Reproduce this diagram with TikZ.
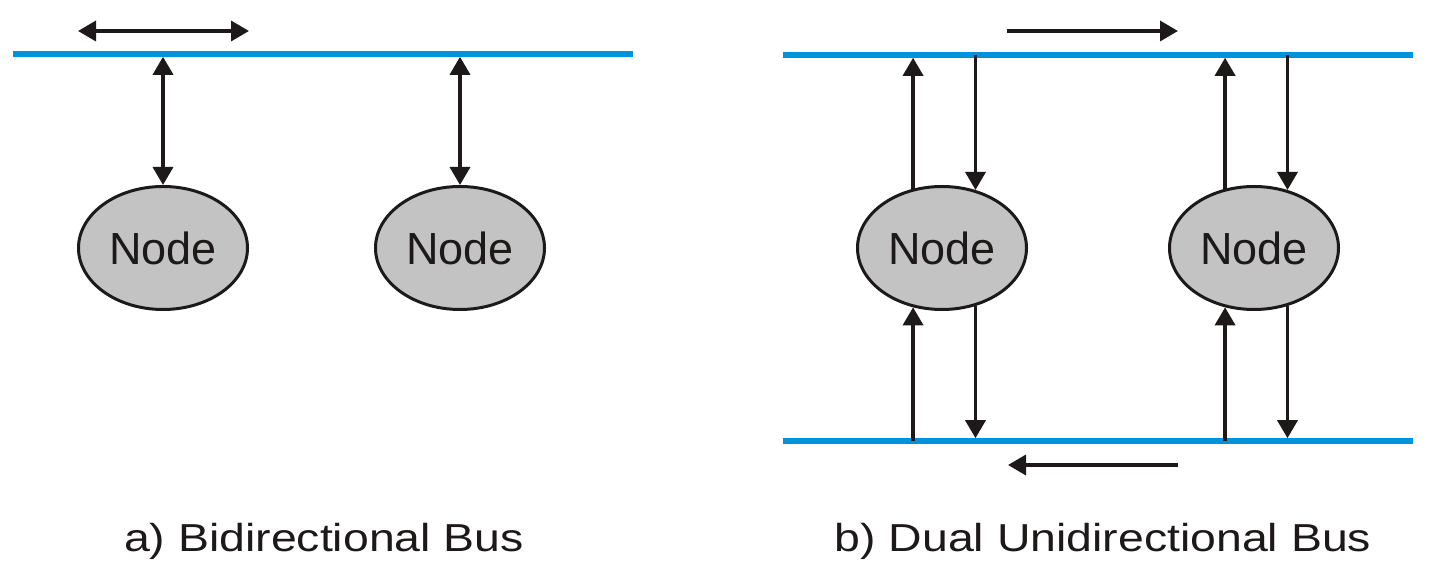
\documentclass[tikz,border=0pt]{standalone}
\usepackage{fontspec}
\setmainfont{Liberation Sans}
\usetikzlibrary{arrows.meta,shapes.geometric}
\definecolor{busblue}{RGB}{0,146,221}
\definecolor{nodegray}{RGB}{195,195,195}
\definecolor{inkblack}{RGB}{30,25,25}
\begin{document}
\begin{tikzpicture}[x=0.5pt,y=-0.5pt,
  bus/.style={draw=busblue,line width=2.75pt},
  tip/.style={},
  arr/.style={draw=inkblack,line width=1.75pt,-{Triangle[length=9pt,width=10pt]}},
  darr/.style={draw=inkblack,line width=1.75pt,{Triangle[length=9pt,width=10pt]}-{Triangle[length=9pt,width=10pt]}},
  busnode/.style={ellipse,draw=inkblack,line width=1.5pt,fill=nodegray,
    minimum width=84.5pt,minimum height=61.5pt,inner sep=0pt,
    font=\fontsize{22.5pt}{26pt}\selectfont,text=inkblack},
  caption/.style={anchor=base,text=inkblack,font=\fontsize{19.5pt}{23pt}\selectfont}]
\useasboundingbox (0,0) rectangle (1432,587);

% ---------- a) Bidirectional Bus ----------
\coordinate (LA) at (13,54);
\coordinate (LB) at (633,54);
\draw[bus] (LA) -- (LB);
\coordinate (h1) at (78,31);
\coordinate (h2) at (249,31);
\draw[darr] (h1) -- (h2);
\node[busnode] (n1) at (163,248) {Node};
\node[busnode] (n2) at (460,248) {Node};
\draw[darr,shorten >=1.4pt] (n1.north) -- (n1.north |- LA);
\draw[darr,shorten >=1.4pt] (n2.north) -- (n2.north |- LA);
\node[caption] (ca) at (324,552) {\scalebox{1.19}[1]{a) Bidirectional Bus}};

% ---------- b) Dual Unidirectional Bus ----------
\coordinate (TA) at (783,55);
\coordinate (TB) at (1413,55);
\coordinate (BA) at (783,441);
\coordinate (BB) at (1413,441);
\draw[bus] (TA) -- (TB);
\draw[bus] (BA) -- (BB);
\coordinate (t1) at (1007,31);
\coordinate (t2) at (1178,31);
\draw[arr] (t1) -- (t2);
\coordinate (b1) at (1178,465);
\coordinate (b2) at (1008,465);
\draw[arr] (b1) -- (b2);
\node[busnode] (n3) at (942,248) {Node};
\node[busnode] (n4) at (1254,248) {Node};
\foreach \n in {n3,n4}{
  \draw[arr,shorten >=1.4pt] (\n.116) -- (\n.116 |- TA);
  \draw[arr] (\n.60 |- TA) -- (\n.60);
  \draw[arr] (\n.-116 |- BA) -- (\n.-116);
  \draw[arr,shorten >=1.4pt] (\n.-60) -- (\n.-60 |- BA);
}
\node[caption] (cb) at (1103,552) {\scalebox{1.19}[1]{b) Dual Unidirectional Bus}};
\end{tikzpicture}
\end{document}
